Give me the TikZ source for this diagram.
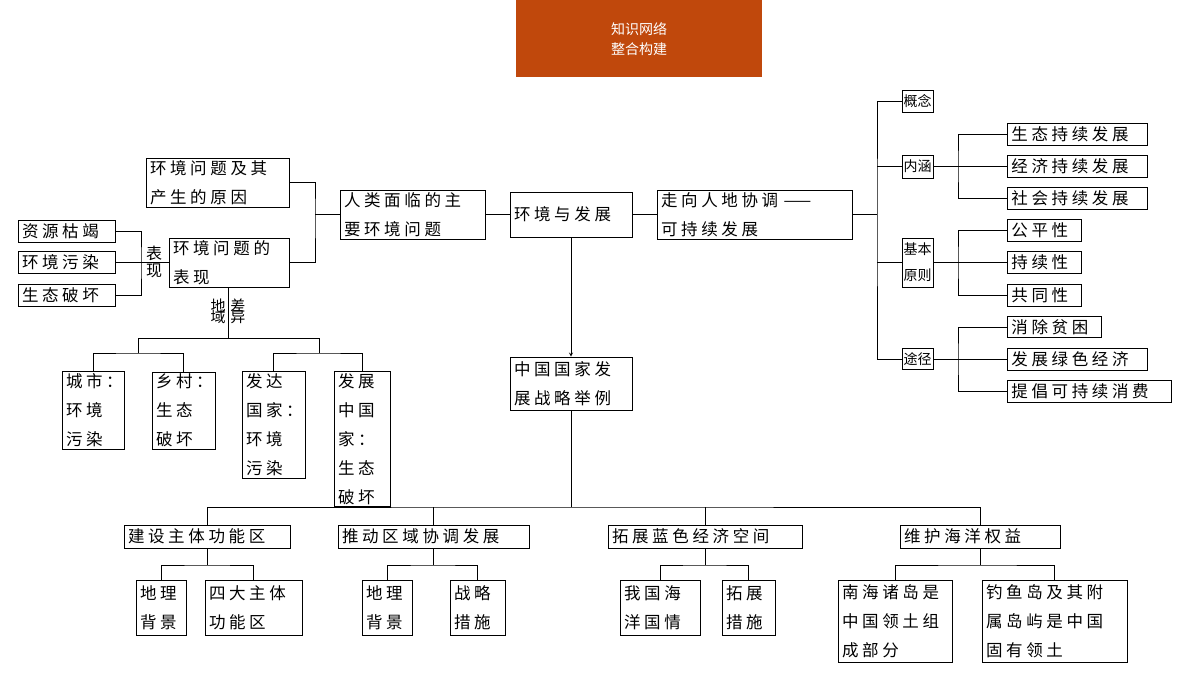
\documentclass[tikz,border=0pt]{standalone}
\usepackage{fontspec}
\newfontfamily\cjk[LetterSpace=22]{Noto Sans CJK SC}
\newfontfamily\cjkplain{Noto Sans CJK SC}
\definecolor{rust}{HTML}{C0480C}
\begin{document}
\begin{tikzpicture}[x=1pt, y=-1pt, line width=0.8pt,
    box/.style={draw, inner sep=2pt, align=left, font=\cjk\fontsize{16.5}{29}\selectfont},
    tag/.style={inner sep=0pt, font=\cjkplain\fontsize{15}{15}\selectfont},
    bx/.style 2 args={box, minimum width=#1, minimum height=#2, text width=#1-8pt},
    small/.style={draw, inner sep=1pt, align=left, minimum width=31, font=\cjkplain\fontsize{14}{26}\selectfont}]
\useasboundingbox (0,0) rectangle (1200,675);

    % Title
    \fill[rust] (516,0) rectangle (762,77);
    \node[font=\cjkplain\fontsize{14}{20}\selectfont, text=white, align=center] (title) at (639,39) {知识网络\\整合构建};

    % Left part
    \node[bx={143}{49}] (cause) at (217.5,182.5) {环境问题及其\\产生的原因};
    \node[bx={120}{49}] (show) at (229,262.5) {环境问题的\\表现};
    \node[bx={145}{49}] (main) at (412.5,214.5) {人类面临的主\\要环境问题};
    \node[bx={97}{22}] (res) at (66.5,231) {资源枯竭};
    \node[bx={97}{22}] (pol) at (66.5,262.5) {环境污染};
    \node[bx={97}{22}] (eco) at (66.5,295.5) {生态破坏};
    \node[tag, align=center, font=\cjkplain\fontsize{16}{17}\selectfont] (biao) at (154,262) {表\\现};
    \coordinate (lj) at (141,262.5);
    \draw (res.east) -| (lj) |- (eco.east);
    \draw (pol.east) -- (show.west);
    \coordinate (cj) at (315,214.5);
    \draw (cause.east) -| (cj) |- (show.east);
    \draw (cj) -- (main.west);

    % regional difference
    \coordinate (dtop) at (228,287);
    \coordinate (dbot) at (228,338);
    \node[tag, anchor=east] (di) at (226,313) {\begin{tabular}{@{}c@{}}地\\[-6pt]域\end{tabular}};
    \node[tag, anchor=west] (cha) at (230,313) {\begin{tabular}{@{}c@{}}差\\[-6pt]异\end{tabular}};
    \draw (show.south -| dtop) -- (dbot);
    \node[bx={62}{77}] (city) at (93,410.5) {城市：\\环境\\污染};
    \node[bx={63}{77}] (town) at (183.5,410.5) {乡村：\\生态\\破坏};
    \node[bx={63}{106}] (devd) at (273.5,425) {发达\\国家：\\环境\\污染};
    \node[bx={56}{134}] (devg) at (362,439) {发展\\中国\\家：\\生态\\破坏};
    \draw (138,353) |- (319,338) -- (319,353);
    \draw (city.north) |- (138,353) -| (town.north);
    \draw (devd.north) |- (319,353) -| (devg.north);

    % Center
    \node[bx={122}{45}] (env) at (571,214.5) {环境与发展};
    \node[bx={195}{49}] (sus) at (754.5,214.5) {走向人地协调 ——\\可持续发展};
    \node[bx={122}{53}] (china) at (571,383.5) {中国国家发\\展战略举例};
    \draw (main.east) -- (env.west);
    \draw (env.east) -- (sus.west);
    \draw[-stealth] (env.south) -- (china.north);

    \node[bx={166}{23}] (zone) at (207,536.5) {建设主体功能区};
    \node[bx={191}{23}] (reg) at (433.5,536.5) {推动区域协调发展};
    \node[bx={194}{23}] (blue) at (705,536.5) {拓展蓝色经济空间};
    \node[bx={160}{23}] (sea) at (980,536.5) {维护海洋权益};
    \coordinate (cs) at (571,507);
    \draw (china.south) -- (cs);
    \draw (zone.north) |- (cs) -| (sea.north);
    \draw (reg.north) -- (reg.north |- cs);
    \draw (blue.north) -- (blue.north |- cs);

    \node[bx={50}{55}] (zg) at (161,607.5) {地理\\背景};
    \node[bx={97}{55}] (zf) at (253.5,607.5) {四大主体\\功能区};
    \node[bx={50}{55}] (rg) at (387,607.5) {地理\\背景};
    \node[bx={55}{55}] (rs) at (477.5,607.5) {战略\\措施};
    \node[bx={80}{55}] (bs) at (660,607.5) {我国海\\洋国情};
    \node[bx={53}{55}] (bm) at (748.5,607.5) {拓展\\措施};
    \node[bx={114}{82}] (sn) at (895,621) {南海诸岛是\\中国领土组\\成部分};
    \node[bx={145}{82}] (dy) at (1054.5,621) {钓鱼岛及其附\\属岛屿是中国\\固有领土};
    \foreach \p/\a/\b in {zone/zg/zf, reg/rg/rs, blue/bs/bm, sea/sn/dy} {
        \draw (\p.south) -- (\p.south |- 0,565);
        \draw (\a.north) |- (\p.south |- 0,565) -| (\b.north);
    }

    % Right part
    \node[small, minimum height=22] (gn) at (917.5,101) {概念};
    \node[small, minimum height=23] (nh) at (917.5,166.5) {内涵};
    \node[small, minimum height=49] (yz) at (917.5,262.5) {基本\\原则};
    \node[small, minimum height=21] (tj) at (917.5,359) {途径};
    \draw (sus.east) -- (877,214.5);
    \draw (gn.west) -| (877,214.5) |- (tj.west);
    \draw (nh.west) -- (nh.west -| 877,0);
    \draw (yz.west) -- (yz.west -| 877,0);

    \node[bx={140}{22}, anchor=west] (st) at (1007,134) {生态持续发展};
    \node[bx={140}{22}, anchor=west] (jj) at (1007,166.5) {经济持续发展};
    \node[bx={140}{22}, anchor=west] (sh) at (1007,198) {社会持续发展};
    \node[bx={74}{22}, anchor=west] (gp) at (1007,230.5) {公平性};
    \node[bx={74}{22}, anchor=west] (cx) at (1007,262.5) {持续性};
    \node[bx={74}{22}, anchor=west] (gt) at (1007,295) {共同性};
    \node[bx={94}{21}, anchor=west] (xc) at (1007,327) {消除贫困};
    \node[bx={140}{22}, anchor=west] (lv) at (1007,359) {发展绿色经济};
    \node[bx={164}{22}, anchor=west] (tc) at (1007,391) {提倡可持续消费};
    \draw (st.west) -| (958,166.5) |- (sh.west);
    \draw (nh.east) -- (jj.west);
    \draw (gp.west) -| (958,262.5) |- (gt.west);
    \draw (yz.east) -- (cx.west);
    \draw (xc.west) -| (958,359) |- (tc.west);
    \draw (tj.east) -- (lv.west);

\end{tikzpicture}
\end{document}
